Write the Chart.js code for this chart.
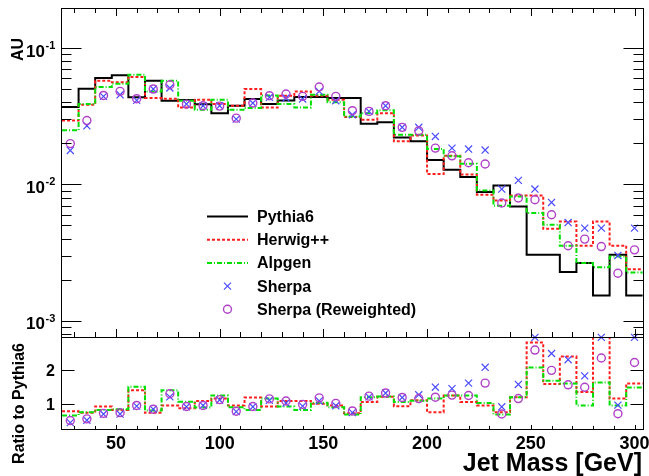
<!DOCTYPE html>
<html>
<head>
<meta charset="utf-8">
<script src="https://cdn.jsdelivr.net/npm/chart.js@4.4.1/dist/chart.umd.min.js"></script>
<style>
  html, body { margin: 0; padding: 0; background: #ffffff; }
  canvas { display: block; }
</style>
</head>
<body>
<canvas id="grafico" width="649" height="476"></canvas>
<script>
const bordasBins = [
  24, 32, 40, 48, 56, 64, 72, 80, 88, 96, 104, 112, 120, 128, 136, 144, 152, 160,
  168, 176, 184, 192, 200, 208, 216, 224, 232, 240, 248, 256, 264, 272, 280, 288,
  296, 304,
];

const pythia6 = [
  0.0369, 0.0503, 0.0602, 0.063, 0.0435, 0.0575, 0.041, 0.0415, 0.0387, 0.0333,
  0.0377, 0.0423, 0.0388, 0.0413, 0.0437, 0.0437, 0.043, 0.043, 0.0278, 0.0285,
  0.0221, 0.0207, 0.0151, 0.0128, 0.01133, 0.00878, 0.00982, 0.00689, 0.00305,
  0.00305, 0.00228, 0.00265, 0.00153, 0.00305, 0.00153,
];
const herwig = [
  0.0294, 0.0384, 0.0575, 0.056, 0.0612, 0.043, 0.0425, 0.0366, 0.0418, 0.0388,
  0.0377, 0.05, 0.0366, 0.0446, 0.048, 0.0446, 0.0418, 0.0312, 0.0298, 0.0333,
  0.0207, 0.0228, 0.0119, 0.0162, 0.0118, 0.0084, 0.00762, 0.0083, 0.0083,
  0.00472, 0.00534, 0.00355, 0.00534, 0.00355, 0.00239,
];
const alpgen = [
  0.0249, 0.0388, 0.0518, 0.0547, 0.0637, 0.048, 0.0575, 0.041, 0.0352, 0.0418,
  0.0352, 0.0363, 0.0449, 0.0388, 0.0366, 0.0454, 0.04, 0.0315, 0.0333, 0.0349,
  0.0231, 0.0231, 0.0182, 0.0161, 0.01416, 0.00902, 0.00697, 0.00815, 0.00616,
  0.00506, 0.00355, 0.00265, 0.00247, 0.00296, 0.00226,
];
const sherpa = [
  0.01774, 0.0269, 0.0442, 0.0454, 0.0413, 0.05, 0.0509, 0.0388, 0.0377, 0.0377,
  0.0301, 0.0395, 0.0435, 0.043, 0.0423, 0.0481, 0.0411, 0.0324, 0.0343, 0.0377,
  0.0262, 0.0262, 0.02246, 0.01845, 0.01815, 0.01786, 0.00924, 0.0107, 0.00924,
  0.00737, 0.00525, 0.00478, 0.00478, 0.00301, 0.00478,
];
const sherpaRepesado = [
  0.0199, 0.0294, 0.0449, 0.0481, 0.0425, 0.05, 0.0538, 0.0388, 0.0377, 0.0375,
  0.0306, 0.0395, 0.0447, 0.046, 0.0442, 0.0518, 0.0442, 0.0347, 0.0343, 0.0377,
  0.0262, 0.0247, 0.01845, 0.0162, 0.0144, 0.0141, 0.0073, 0.00794, 0.00771,
  0.00599, 0.00355, 0.00397, 0.0035, 0.00223, 0.00331,
];

const razaoHerwig = [
  0.8, 0.755, 0.94, 0.84, 1.41, 0.755, 0.97, 0.89, 1.1, 1.17, 0.97, 1.2, 0.94,
  1.1, 1.1, 1.02, 0.97, 0.74, 1.07, 1.22, 0.95, 1.12, 0.77, 1.26, 1.07, 0.97,
  0.77, 1.21, 2.8, 1.59, 2.39, 1.36, 3.49, 1.17, 1.61,
];
const razaoAlpgen = [
  0.68, 0.77, 0.84, 0.86, 1.51, 0.82, 1.41, 1.08, 0.91, 1.26, 0.92, 0.84, 1.17,
  0.94, 0.84, 1.05, 0.92, 0.71, 1.21, 1.23, 1.07, 1.11, 1.17, 1.26, 1.26, 1.04,
  0.71, 1.21, 2.07, 1.69, 1.61, 0.97, 1.64, 0.97, 1.49,
];
const razaoSherpa = [
  0.47, 0.54, 0.72, 0.72, 0.95, 0.86, 1.22, 0.93, 0.97, 1.13, 0.79, 0.93, 1.12,
  1.04, 0.95, 1.1, 0.96, 0.76, 1.22, 1.33, 1.2, 1.28, 1.5, 1.46, 1.62, 2.08,
  0.93, 1.58, 2.95, 2.48, 2.3, 1.83, 2.95, 0.98, 2.95,
];
const razaoSherpaRepesado = [
  0.53, 0.58, 0.74, 0.76, 0.97, 0.86, 1.31, 0.94, 0.97, 1.14, 0.8, 0.94, 1.16,
  1.1, 1.0, 1.19, 1.03, 0.81, 1.24, 1.33, 1.2, 1.17, 1.21, 1.27, 1.26, 1.62,
  0.72, 1.17, 2.58, 1.99, 1.57, 1.5, 2.35, 0.73, 2.22,
];

const rotulosX = [50, 100, 150, 200, 250, 300];
const expoentesY = [-1, -2, -3];
const rotulosRazao = [1, 2];
const nomesSeries = ["Pythia6", "Herwig++", "Alpgen", "Sherpa", "Sherpa (Reweighted)"];

const fonte = '"Liberation Sans", Arial, Helvetica, sans-serif';
const corSherpa = "#4a4aff";
const corSherpaRepesado = "#b040c8";

function degraus(valores) {
  const pontos = valores.map((v, i) => ({ x: bordasBins[i], y: v }));
  pontos.push({ x: bordasBins[valores.length], y: valores[valores.length - 1] });
  return pontos;
}

function centros(valores) {
  return valores.map((v, i) => ({
    x: (bordasBins[i] + bordasBins[i + 1]) / 2,
    y: v,
  }));
}

function histograma(label, valores, eixo, cor, traco, ordem) {
  return {
    label: label,
    data: degraus(valores),
    yAxisID: eixo,
    borderColor: cor,
    borderWidth: 2,
    borderDash: traco,
    borderJoinStyle: "miter",
    stepped: true,
    pointRadius: 0,
    fill: false,
    order: ordem,
  };
}

function pontos(label, valores, eixo, cor, estilo, raio, ordem) {
  return {
    label: label,
    data: centros(valores),
    yAxisID: eixo,
    showLine: false,
    borderColor: cor,
    backgroundColor: "rgba(0,0,0,0)",
    borderWidth: estilo === "circle" ? 1.4 : 1.2,
    pointStyle: estilo,
    pointRadius: raio,
    pointHoverRadius: raio,
    clip: 6,
    order: ordem,
  };
}

const datasets = [
  histograma(nomesSeries[0], pythia6, "y", "#000000", [], 4),
  histograma(nomesSeries[1], herwig, "y", "#ff1e1e", [3, 2], 3),
  histograma(nomesSeries[2], alpgen, "y", "#00e000", [5, 2, 1, 2], 2),
  pontos(nomesSeries[3], sherpa, "y", corSherpa, "crossRot", 5, 1),
  pontos(nomesSeries[4], sherpaRepesado, "y", corSherpaRepesado, "circle", 4, 0),
  histograma("razao Herwig++", razaoHerwig, "yRazao", "#ff1e1e", [3, 2], 3),
  histograma("razao Alpgen", razaoAlpgen, "yRazao", "#00e000", [5, 2, 1, 2], 2),
  pontos("razao Sherpa", razaoSherpa, "yRazao", corSherpa, "crossRot", 5, 1),
  pontos("razao Sherpa rw", razaoSherpaRepesado, "yRazao", corSherpaRepesado, "circle", 4, 0),
];

function marcaVertical(ctx, x, y, tamanho) {
  ctx.beginPath();
  ctx.moveTo(Math.round(x) + 0.5, y);
  ctx.lineTo(Math.round(x) + 0.5, y + tamanho);
  ctx.stroke();
}

function marcaHorizontal(ctx, x, y, tamanho) {
  ctx.beginPath();
  ctx.moveTo(x, Math.round(y) + 0.5);
  ctx.lineTo(x + tamanho, Math.round(y) + 0.5);
  ctx.stroke();
}

function textoVertical(ctx, texto, x, y, tamanho) {
  ctx.save();
  ctx.translate(x, y);
  ctx.rotate(-Math.PI / 2);
  ctx.font = `bold ${tamanho}px ${fonte}`;
  ctx.textAlign = "right";
  ctx.textBaseline = "alphabetic";
  ctx.fillText(texto, 0, 0);
  ctx.restore();
}

const molduraRoot = {
  id: "molduraRoot",
  afterDraw(chart) {
    const ctx = chart.ctx;
    const eixoX = chart.scales.x;
    const eixoLog = chart.scales.y;
    const eixoRazao = chart.scales.yRazao;
    const esq = Math.round(eixoX.left) - 0.5;
    const dir = Math.round(eixoX.right) + 0.5;

    ctx.save();
    ctx.strokeStyle = "#000000";
    ctx.fillStyle = "#000000";
    ctx.lineWidth = 1;
    ctx.setLineDash([]);

    [eixoLog, eixoRazao].forEach((eixo) => {
      const topo = Math.round(eixo.top) + 0.5;
      const base = Math.round(eixo.bottom) + 0.5;
      ctx.strokeRect(esq, topo, dir - esq, base - topo);
    });

    for (let m = 30; m <= 300; m += 10) {
      const px = eixoX.getPixelForValue(m);
      const maior = m % 50 === 0;
      marcaVertical(ctx, px, eixoLog.top, maior ? 8 : 5);
      marcaVertical(ctx, px, eixoLog.bottom, maior ? -8 : -5);
      marcaVertical(ctx, px, eixoRazao.bottom, maior ? -4 : -3);
    }

    for (let d = -4; d <= -1; d++) {
      for (let k = 1; k <= 9; k++) {
        const v = k * Math.pow(10, d);
        if (v < eixoLog.min || v > eixoLog.max) continue;
        const py = eixoLog.getPixelForValue(v);
        const t = k === 1 ? 20 : 10;
        marcaHorizontal(ctx, esq, py, t);
        marcaHorizontal(ctx, dir, py, -t);
      }
    }

    rotulosRazao.forEach((v) => {
      const py = eixoRazao.getPixelForValue(v);
      marcaHorizontal(ctx, esq, py, 13);
      marcaHorizontal(ctx, dir, py, -13);
      ctx.font = `bold 16px ${fonte}`;
      ctx.textAlign = "right";
      ctx.textBaseline = "alphabetic";
      ctx.fillText(String(v), 55, py + 6);
    });

    expoentesY.forEach((e) => {
      const py = eixoLog.getPixelForValue(Math.pow(10, e));
      ctx.font = `bold 17px ${fonte}`;
      ctx.textAlign = "right";
      ctx.textBaseline = "alphabetic";
      ctx.fillText("10", 45, py + 8.5);
      ctx.font = `bold 11px ${fonte}`;
      ctx.textAlign = "left";
      ctx.fillText(String(e), 45.5, py + 1);
    });

    ctx.font = `bold 18px ${fonte}`;
    ctx.textAlign = "center";
    ctx.textBaseline = "alphabetic";
    rotulosX.forEach((v) => {
      ctx.fillText(String(v), eixoX.getPixelForValue(v), 449);
    });

    ctx.font = `bold 25px ${fonte}`;
    ctx.textAlign = "right";
    ctx.fillText("Jet Mass [GeV]", 642, 471);

    textoVertical(ctx, "AU", 22.5, 38, 16);
    textoVertical(ctx, "Ratio to Pythia6", 23.5, 343, 16);

    // legenda
    const linhaIni = 207;
    const linhaFim = 248;
    const meio = (linhaIni + linhaFim) / 2;
    chart.data.datasets.slice(0, 5).forEach((ds, i) => {
      const py = 216.5 + i * 23.2;
      ctx.save();
      ctx.strokeStyle = ds.borderColor;
      ctx.lineWidth = ds.borderWidth;
      if (ds.showLine === false) {
        ctx.setLineDash([]);
        ctx.beginPath();
        if (ds.pointStyle === "circle") {
          ctx.arc(meio, py, ds.pointRadius, 0, Math.PI * 2);
        } else {
          const r = ds.pointRadius * Math.SQRT1_2;
          ctx.moveTo(meio - r, py - r);
          ctx.lineTo(meio + r, py + r);
          ctx.moveTo(meio - r, py + r);
          ctx.lineTo(meio + r, py - r);
        }
        ctx.stroke();
      } else {
        ctx.setLineDash(ds.borderDash || []);
        ctx.beginPath();
        ctx.moveTo(linhaIni, py);
        ctx.lineTo(linhaFim, py);
        ctx.stroke();
      }
      ctx.restore();
      ctx.font = `bold 16px ${fonte}`;
      ctx.textAlign = "left";
      ctx.textBaseline = "alphabetic";
      ctx.fillText(ds.label, 257, py + 5.5);
    });

    ctx.restore();
  },
};

const semGrade = { display: false };
const semBorda = { display: false };
const semTicks = { display: false };

new Chart(document.getElementById("grafico"), {
  type: "line",
  data: { datasets: datasets },
  options: {
    responsive: false,
    animation: false,
    events: [],
    layout: { padding: { top: 8, right: 6, left: 0, bottom: 0 } },
    plugins: {
      legend: { display: false },
      tooltip: { enabled: false },
    },
    scales: {
      x: {
        type: "linear",
        position: "bottom",
        min: 24,
        max: 304,
        grid: semGrade,
        border: semBorda,
        ticks: semTicks,
        afterFit: (escala) => {
          escala.height = 47;
        },
      },
      y: {
        type: "logarithmic",
        position: "left",
        stack: "paineis",
        stackWeight: 329,
        weight: 1,
        min: 7.6e-4,
        max: 0.1965,
        grid: semGrade,
        border: semBorda,
        ticks: semTicks,
        afterFit: (escala) => {
          escala.width = 62;
        },
      },
      yRazao: {
        type: "linear",
        position: "left",
        stack: "paineis",
        stackWeight: 92,
        weight: 0,
        min: 0.285,
        max: 2.96,
        grid: semGrade,
        border: semBorda,
        ticks: semTicks,
        afterFit: (escala) => {
          escala.width = 62;
        },
      },
    },
  },
  plugins: [molduraRoot],
});
</script>
</body>
</html>
